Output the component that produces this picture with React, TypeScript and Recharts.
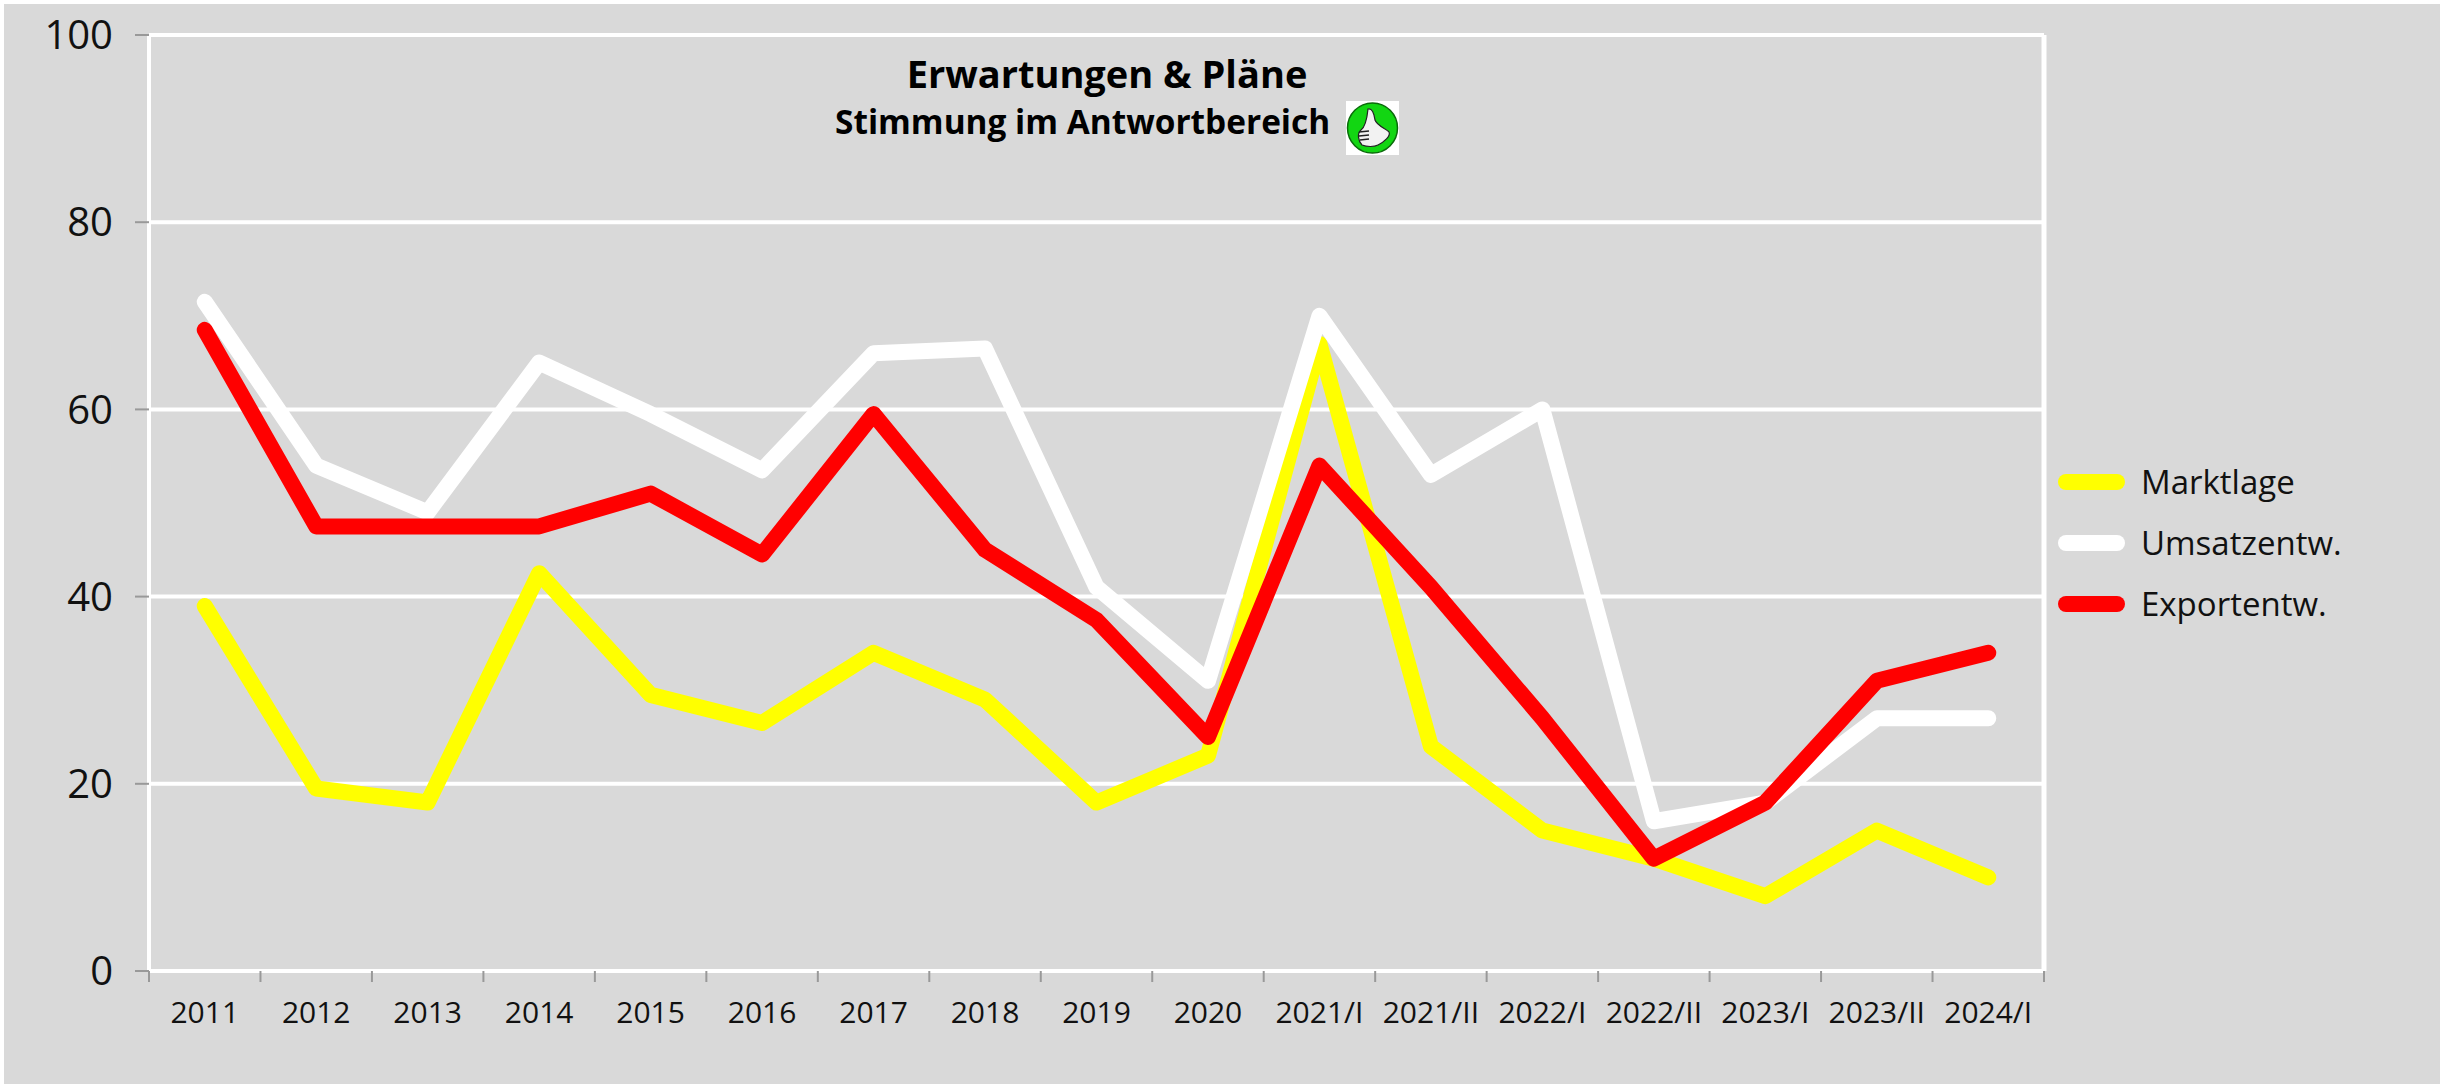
import React from "react";
import {
  CartesianGrid,
  Legend,
  Line,
  LineChart,
  XAxis,
  YAxis,
} from "recharts";

const categories = [
  "2011", "2012", "2013", "2014", "2015", "2016", "2017", "2018", "2019",
  "2020", "2021/I", "2021/II", "2022/I", "2022/II", "2023/I", "2023/II", "2024/I",
];
const marktlage = [39, 19.5, 18, 42.5, 29.5, 26.5, 34, 29, 18, 23, 67, 24, 15, 12, 8, 15, 10];
const umsatzentw = [71.5, 54, 49, 65, 59.5, 53.5, 66, 66.5, 41, 31, 70, 53, 60, 16, 18, 27, 27];
const exportentw = [68.5, 47.5, 47.5, 47.5, 51, 44.5, 59.5, 45, 37.5, 25, 54, 41, 27, 12, 18, 31, 34];
const yTicks = [0, 20, 40, 60, 80, 100];

const data = categories.map((name, i) => ({
  name,
  Marktlage: marktlage[i],
  "Umsatzentw.": umsatzentw[i],
  "Exportentw.": exportentw[i],
}));

const FONT = '"Open Sans", "Noto Sans", sans-serif';
const BG = "#d9d9d9";
const TICK = "#999999";
const PLOT_LEFT = 149;
const PLOT_RIGHT = 2044;
const PLOT_TOP = 35;
const PLOT_BOTTOM = 971;
const LEGEND_WIDTH = 340;
const BAND = (PLOT_RIGHT - PLOT_LEFT) / categories.length;

// ticks sit on the category boundaries, labels in the middle of the band
const CategoryTick = ({ x, y, payload, index }: any) => (
  <g>
    <line x1={x - BAND / 2} x2={x - BAND / 2} y1={PLOT_BOTTOM} y2={PLOT_BOTTOM + 11} stroke={TICK} strokeWidth={2} />
    {index === categories.length - 1 && (
      <line x1={x + BAND / 2} x2={x + BAND / 2} y1={PLOT_BOTTOM} y2={PLOT_BOTTOM + 11} stroke={TICK} strokeWidth={2} />
    )}
    <text x={x} y={PLOT_BOTTOM + 52} textAnchor="middle" fontFamily={FONT} fontSize={30} fill="#111">
      {payload.value}
    </text>
  </g>
);

const LegendContent = ({ payload }: any) => (
  <div>
    {payload.map((item: any) => (
      <div key={item.value} style={{ display: "flex", alignItems: "center", height: 61 }}>
        <span style={{ width: 67, height: 16, borderRadius: 8, background: item.color, marginRight: 16 }} />
        <span style={{ fontFamily: FONT, fontSize: 33, color: "#111", lineHeight: 1 }}>{item.value}</span>
      </div>
    ))}
  </div>
);

const ThumbIcon = () => (
  <svg width={53} height={54} viewBox="0 0 53 54" style={{ position: "absolute", left: 1346, top: 101 }}>
    <rect width={53} height={54} fill="#fff" />
    <ellipse cx={26.5} cy={27} rx={25} ry={25} fill="#12d612" stroke="#0a6b0a" strokeWidth={1.5} />
    <path
      d="M22 8 C26 7 28 12 29 19 C31 25 41 28 43 31 C45 35 38 41 32 44 C28 46 21 46 16 44 C12 40 11 32 15 29 C19 26 21 18 22 8 Z"
      fill="#f2f2f2"
      stroke="#222"
      strokeWidth={1.2}
    />
    <path d="M13 31 L23 30 M13 35 L23 34 M14 39 L23 38" stroke="#222" strokeWidth={1.5} />
  </svg>
);

export default function App() {
  return (
    <div style={{ position: "absolute", left: 0, top: 0, width: 2440, height: 1084, background: "#fff" }}>
      <div style={{ position: "absolute", left: 4, top: 4, width: 2436, height: 1080, background: BG }} />
      <div style={{ position: "absolute", left: 0, top: 0 }}>
        <LineChart
          width={2440}
          height={1084}
          data={data}
          margin={{ top: PLOT_TOP, right: 0, bottom: 0, left: 0 }}
        >
          <CartesianGrid horizontal vertical={false} stroke="#fff" strokeWidth={4} />
          <XAxis
            dataKey="name"
            height={1084 - PLOT_BOTTOM}
            padding={{ left: BAND / 2, right: BAND / 2 }}
            axisLine={{ stroke: "#fff", strokeWidth: 4 }}
            tickLine={false}
            interval={0}
            tick={<CategoryTick />}
          />
          <YAxis
            domain={[0, 100]}
            ticks={yTicks}
            width={PLOT_LEFT}
            axisLine={{ stroke: "#fff", strokeWidth: 4 }}
            tickLine={{ stroke: TICK, strokeWidth: 2 }}
            tickSize={14}
            tickMargin={22}
            tick={{ fontFamily: FONT, fontSize: 40, fill: "#111" }}
          />
          <YAxis
            yAxisId="frame"
            orientation="right"
            domain={[0, 100]}
            ticks={[]}
            width={2440 - PLOT_RIGHT - LEGEND_WIDTH}
            axisLine={{ stroke: "#fff", strokeWidth: 5 }}
            tick={false}
          />
          <Legend
            layout="vertical"
            align="right"
            verticalAlign="top"
            itemSorter={null}
            content={<LegendContent />}
            wrapperStyle={{ left: 2058, top: 451, width: LEGEND_WIDTH }}
          />
          <Line dataKey="Marktlage" stroke="#ffff00" strokeWidth={16} strokeLinejoin="round" strokeLinecap="round" dot={false} isAnimationActive={false} />
          <Line dataKey="Umsatzentw." stroke="#ffffff" strokeWidth={16} strokeLinejoin="round" strokeLinecap="round" dot={false} isAnimationActive={false} />
          <Line dataKey="Exportentw." stroke="#ff0000" strokeWidth={16} strokeLinejoin="round" strokeLinecap="round" dot={false} isAnimationActive={false} />
        </LineChart>
      </div>
      <div style={{ position: "absolute", left: 707, top: 49, width: 800, textAlign: "center", fontFamily: FONT, fontWeight: 700, fontSize: 38, lineHeight: "48px", color: "#000" }}>
        Erwartungen &amp; Pläne
      </div>
      <div style={{ position: "absolute", left: 835, top: 97, whiteSpace: "nowrap", fontFamily: FONT, fontWeight: 700, fontSize: 33.4, lineHeight: "48px", color: "#000" }}>
        Stimmung im Antwortbereich
      </div>
      <ThumbIcon />
    </div>
  );
}
